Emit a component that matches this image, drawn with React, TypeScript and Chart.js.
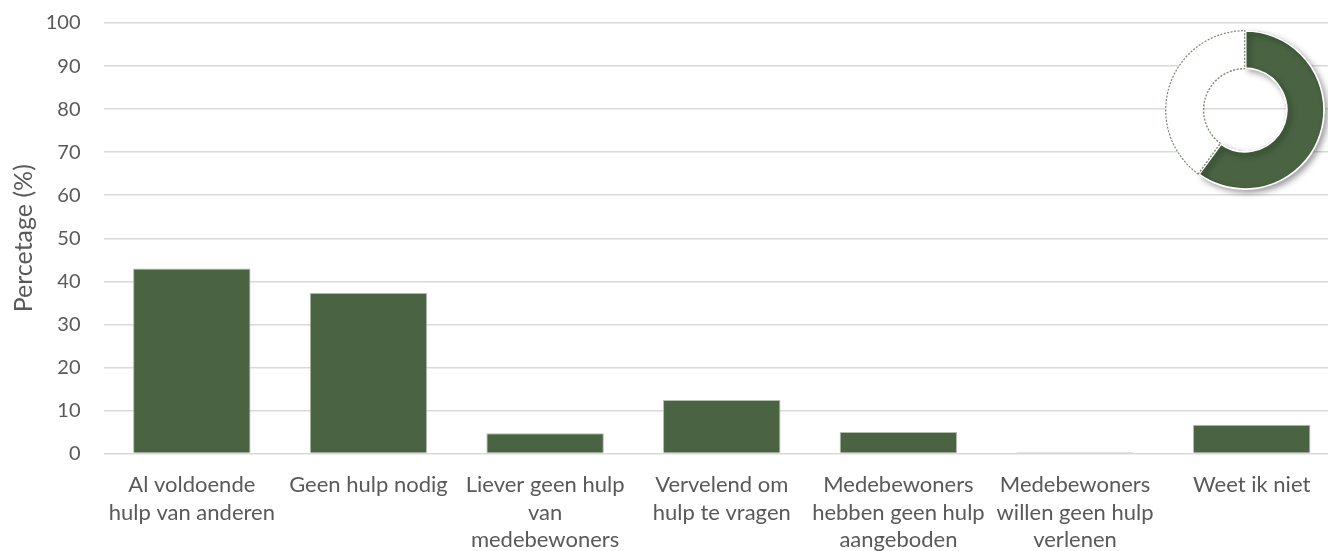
import React, { useEffect, useRef } from "react";
import { Chart, registerables } from "chart.js";

Chart.register(...registerables);

// ---- data ----
const categories: string[][] = [
  ["Al voldoende", "hulp van anderen"],
  ["Geen hulp nodig"],
  ["Liever geen hulp", "van", "medebewoners"],
  ["Vervelend om", "hulp te vragen"],
  ["Medebewoners", "hebben geen hulp", "aangeboden"],
  ["Medebewoners", "willen geen hulp", "verlenen"],
  ["Weet ik niet"],
];
const percentages: number[] = [43.0, 37.3, 4.7, 12.4, 5.0, 0.3, 6.7];
const yAxisTitle = "Percetage (%)";
const yMin = 0;
const yMax = 100;
const yStep = 10;

const donutLabels: string[] = ["Deel", "Rest"];
const donutValues: number[] = [60, 40];

// ---- styles ----
const FONT = "Lato, 'Open Sans', sans-serif";
const TEXT = "#595959";
const GREEN = "#4a6443";

export default function App() {
  const barRef = useRef<HTMLCanvasElement>(null);
  const donutRef = useRef<HTMLCanvasElement>(null);

  useEffect(() => {
    const bar = new Chart(barRef.current as HTMLCanvasElement, {
      type: "bar",
      data: {
        labels: categories,
        datasets: [
          {
            data: percentages,
            backgroundColor: GREEN,
            borderColor: "#b3beaf",
            borderWidth: 1,
            categoryPercentage: 1,
            barPercentage: 0.665,
          },
        ],
      },
      options: {
        responsive: false,
        animation: false,
        layout: { padding: { top: 23, left: 0, right: 0, bottom: 0 } },
        plugins: {
          legend: { display: false },
          tooltip: { enabled: false },
        },
        scales: {
          x: {
            grid: { display: false, drawTicks: false },
            border: { display: false },
            ticks: {
              color: TEXT,
              font: { family: FONT, size: 22, lineHeight: 1.25 },
              padding: 18,
              maxRotation: 0,
              minRotation: 0,
              autoSkip: false,
            },
            afterFit: (scale: any) => {
              scale.height = 97.5;
            },
          },
          y: {
            min: yMin,
            max: yMax,
            grid: {
              color: "#d9d9d9",
              lineWidth: 1.5,
              drawTicks: true,
              tickLength: 20,
              tickColor: "rgba(0,0,0,0)",
            },
            border: { display: false },
            ticks: {
              stepSize: yStep,
              color: TEXT,
              font: { family: FONT, size: 20 },
              padding: 3,
            },
            title: {
              display: true,
              text: yAxisTitle,
              color: TEXT,
              font: { family: FONT, size: 25 },
              padding: { top: 9, bottom: 0 },
            },
            afterFit: (scale: any) => {
              scale.width = 103.5;
            },
          },
        },
      },
    });

    const shadowPlugin = {
      id: "greenShadow",
      beforeDatasetDraw(chart: any, args: any) {
        const ctx = chart.ctx;
        args.meta.data.forEach((el: any, i: number) => {
          ctx.save();
          if (i === 0) {
            ctx.shadowColor = "rgba(0,0,0,0.4)";
            ctx.shadowBlur = 6;
            ctx.shadowOffsetX = 3;
            ctx.shadowOffsetY = 3;
          }
          el.draw(ctx, chart.chartArea);
          ctx.restore();
        });
        return false;
      },
    };

    const donut = new Chart(donutRef.current as HTMLCanvasElement, {
      type: "doughnut",
      data: {
        labels: donutLabels,
        datasets: [
          {
            data: donutValues,
            backgroundColor: [GREEN, "#ffffff"],
            borderColor: ["#ffffff", "#7d8c79"],
            borderWidth: [1.5, 1],
            borderAlign: "inner",
            borderDash: (c: any) => (c.dataIndex === 1 ? [2, 1.5] : []),
          } as any,
        ],
      },
      options: {
        responsive: false,
        animation: false,
        cutout: "51%",
        layout: { padding: 20 },
        plugins: {
          legend: { display: false },
          tooltip: { enabled: false },
        },
      },
      plugins: [shadowPlugin],
    });

    return () => {
      bar.destroy();
      donut.destroy();
    };
  }, []);

  return (
    <div
      style={{
        position: "fixed",
        left: 0,
        top: 0,
        width: 1328,
        height: 551,
        overflow: "hidden",
        background: "#ffffff",
      }}
    >
      <canvas
        ref={barRef}
        width={1340}
        height={551}
        style={{ position: "absolute", left: 0, top: 0, width: 1340, height: 551 }}
      />
      <canvas
        ref={donutRef}
        width={200}
        height={200}
        style={{ position: "absolute", left: 1145, top: 10, width: 200, height: 200 }}
      />
    </div>
  );
}
